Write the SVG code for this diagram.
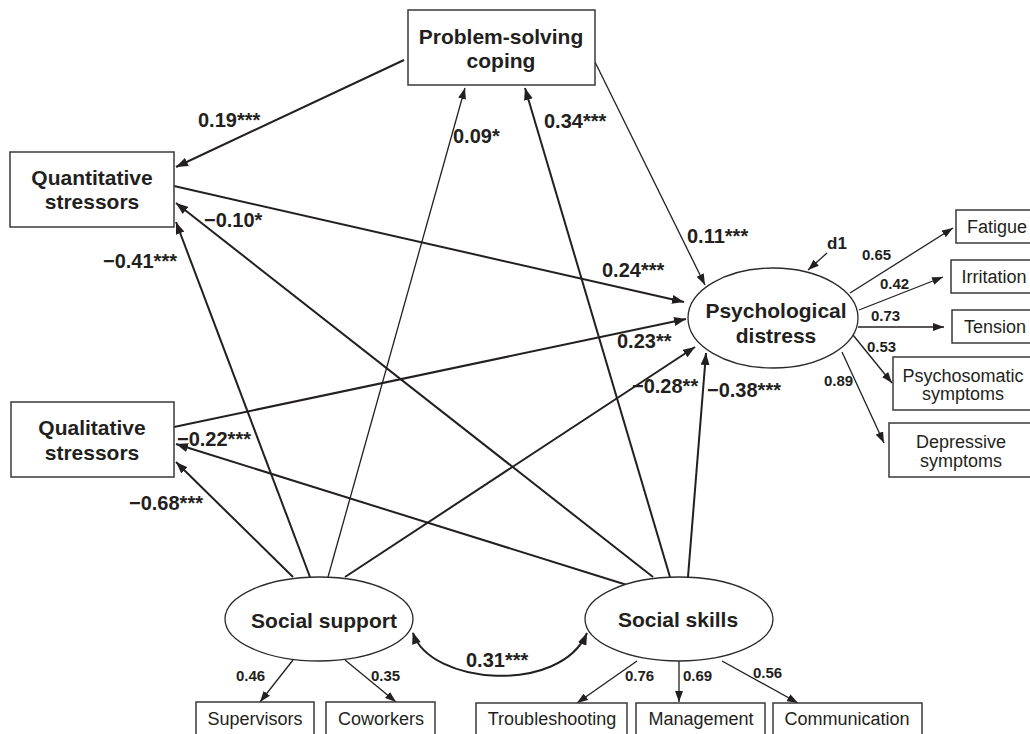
<svg xmlns="http://www.w3.org/2000/svg" width="1030" height="734" viewBox="0 0 1030 734">
<defs>
<style>
.box{fill:#fff;stroke:#3a3a3a;stroke-width:1.5}
.ell{fill:#fff;stroke:#2a2a2a;stroke-width:1.3}
.node{font-family:"Liberation Sans",Arial,sans-serif;font-weight:bold;font-size:21px;fill:#231f20;text-anchor:middle}
.ind{font-family:"Liberation Sans",Arial,sans-serif;font-size:18px;fill:#231f20;text-anchor:middle}
.lab{font-family:"Liberation Sans",Arial,sans-serif;font-weight:bold;font-size:20px;fill:#231f20}
.sm{font-family:"Liberation Sans",Arial,sans-serif;font-weight:bold;font-size:15px;fill:#231f20}
.thick{fill:none;stroke:#231f20;stroke-width:2;marker-end:url(#ah)}
.thin{fill:none;stroke:#231f20;stroke-width:1.3;marker-end:url(#as)}
</style>
<marker id="ah" markerUnits="userSpaceOnUse" markerWidth="13" markerHeight="9" refX="12" refY="4.5" orient="auto">
<path d="M0,0 L12,4.5 L0,9 Z" fill="#231f20"/>
</marker>
<marker id="as" markerUnits="userSpaceOnUse" markerWidth="12" markerHeight="8" refX="11" refY="4" orient="auto">
<path d="M0,0 L11,4 L0,8 Z" fill="#231f20"/>
</marker>
<marker id="ahs" markerUnits="userSpaceOnUse" markerWidth="13" markerHeight="9" refX="1" refY="4.5" orient="auto">
<path d="M12,0 L0,4.5 L12,9 Z" fill="#231f20"/>
</marker>
</defs>
<rect width="1030" height="734" fill="#fff"/>

<g id="connectors">
<path class="thick" d="M404,60 L176,167"/>
<path class="thick" d="M174,186 L684,302"/>
<path class="thick" d="M174,427 L686,319"/>
<path class="thin" d="M595,62 L705,285"/>
<path class="thick" d="M310,577 L176,222"/>
<path class="thin" d="M328,577 L465,88"/>
<path class="thick" d="M293,577 L176,462"/>
<path class="thick" d="M345,577 L695,347"/>
<path class="thick" d="M627,585 L176,444"/>
<path class="thick" d="M653,577 L176,203"/>
<path class="thick" d="M670,577 L525,88"/>
<path class="thick" d="M688,577 L706,353"/>
<path class="thin" d="M827,253 L808,270"/>
<path class="thin" d="M850,293 L953,228"/>
<path class="thin" d="M859,310 L943,277"/>
<path class="thin" d="M858,327 L944,327"/>
<path class="thin" d="M853,335 L892,383"/>
<path class="thin" d="M842,352 L884,443"/>
<path class="thin" d="M293,660 L260,702"/>
<path class="thin" d="M345,660 L396,702"/>
<path class="thin" d="M637,661 L577,703"/>
<path class="thin" d="M679,661 L679,702"/>
<path class="thin" d="M722,661 L798,703"/>
<path d="M413,633 C430,685 560,695 587,633" fill="none" stroke="#231f20" stroke-width="2" marker-start="url(#ahs)" marker-end="url(#ah)"/>
</g>

<g id="labels">
<text class="lab" x="198" y="127">0.19***</text>
<text class="lab" x="453" y="143">0.09*</text>
<text class="lab" x="544" y="128">0.34***</text>
<text class="lab" x="204" y="227">−0.10*</text>
<text class="lab" x="103" y="268">−0.41***</text>
<text class="lab" x="687" y="243">0.11***</text>
<text class="lab" x="602" y="277">0.24***</text>
<text class="lab" x="617" y="348">0.23**</text>
<text class="lab" x="632" y="393">−0.28**</text>
<text class="lab" x="707" y="397">−0.38***</text>
<text class="lab" x="177" y="446">−0.22***</text>
<text class="lab" x="129" y="510">−0.68***</text>
<text class="lab" x="466" y="667">0.31***</text>
<text class="lab" x="827" y="249" style="font-size:17px">d1</text>
<text class="sm" x="862" y="260">0.65</text>
<text class="sm" x="880" y="289">0.42</text>
<text class="sm" x="871" y="321">0.73</text>
<text class="sm" x="867" y="352">0.53</text>
<text class="sm" x="824" y="386">0.89</text>
<text class="sm" x="236" y="681">0.46</text>
<text class="sm" x="371" y="681">0.35</text>
<text class="sm" x="625" y="681">0.76</text>
<text class="sm" x="683" y="681">0.69</text>
<text class="sm" x="753" y="678">0.56</text>
</g>

<g id="psc">
<rect class="box" x="408" y="10" width="187" height="75"/>
<text class="node" x="501" y="44">Problem-solving</text>
<text class="node" x="501" y="68">coping</text>
</g>
<g id="quant">
<rect class="box" x="10" y="152" width="164" height="75"/>
<text class="node" x="92" y="185">Quantitative</text>
<text class="node" x="92" y="209">stressors</text>
</g>
<g id="qual">
<rect class="box" x="11" y="402" width="163" height="75"/>
<text class="node" x="92" y="435">Qualitative</text>
<text class="node" x="92" y="460">stressors</text>
</g>
<g id="pd">
<ellipse class="ell" cx="773" cy="318" rx="85" ry="50"/>
<text class="node" x="776" y="318">Psychological</text>
<text class="node" x="776" y="343">distress</text>
</g>
<g id="ssup">
<ellipse class="ell" cx="319" cy="619" rx="94" ry="42"/>
<text class="node" x="324" y="628">Social support</text>
</g>
<g id="sskl">
<ellipse class="ell" cx="679" cy="619" rx="94" ry="42"/>
<text class="node" x="678" y="627">Social skills</text>
</g>
<g id="fatigue">
<rect class="box" x="956" y="210" width="90" height="33"/>
<text class="ind" x="997" y="233">Fatigue</text>
</g>
<g id="irritation">
<rect class="box" x="951" y="260" width="95" height="33"/>
<text class="ind" x="994" y="283">Irritation</text>
</g>
<g id="tension">
<rect class="box" x="952" y="310" width="94" height="33"/>
<text class="ind" x="995" y="333">Tension</text>
</g>
<g id="psychosomatic">
<rect class="box" x="893" y="357" width="153" height="53"/>
<text class="ind" x="963" y="382">Psychosomatic</text>
<text class="ind" x="963" y="400">symptoms</text>
</g>
<g id="depressive">
<rect class="box" x="889" y="423" width="157" height="54"/>
<text class="ind" x="961" y="448">Depressive</text>
<text class="ind" x="961" y="467">symptoms</text>
</g>
<g id="supervisors">
<rect class="box" x="196" y="702" width="118" height="40"/>
<text class="ind" x="255" y="725">Supervisors</text>
</g>
<g id="coworkers">
<rect class="box" x="326" y="702" width="109" height="40"/>
<text class="ind" x="381" y="725">Coworkers</text>
</g>
<g id="troubleshooting">
<rect class="box" x="476" y="703" width="151" height="40"/>
<text class="ind" x="552" y="725">Troubleshooting</text>
</g>
<g id="management">
<rect class="box" x="636" y="703" width="129" height="40"/>
<text class="ind" x="701" y="725">Management</text>
</g>
<g id="communication">
<rect class="box" x="773" y="703" width="149" height="40"/>
<text class="ind" x="847" y="725">Communication</text>
</g>
</svg>
